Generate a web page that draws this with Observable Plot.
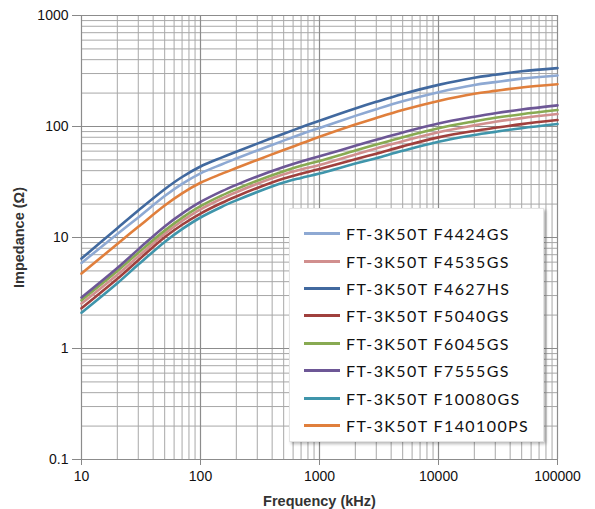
<!DOCTYPE html>
<html><head><meta charset="utf-8">
<script src="https://cdn.jsdelivr.net/npm/d3@7"></script>
<script src="https://cdn.jsdelivr.net/npm/@observablehq/plot@0.6"></script>
<style>
body{margin:0;background:#fff}
#wrap{position:relative;width:595px;height:509px;overflow:hidden}
#legend{position:absolute;left:289px;top:208px;width:255px;height:234px;background:#fff;box-shadow:2px 2px 3px rgba(0,0,0,0.28);border:1px solid #e4e4e4;box-sizing:border-box;padding-top:11px}
.row{display:flex;align-items:center;height:27.4px;font-family:Lato,"Open Sans",sans-serif;font-size:16px;letter-spacing:1.4px;color:#111}
.sw{width:36px;height:3px;margin-left:14px;margin-right:6px}
g[aria-label="x-axis label"] text,g[aria-label="y-axis label"] text{font-weight:bold;fill:#333;font-size:14.5px}
</style></head><body>
<div id="wrap"><div id="chart"></div><div id="legend"></div></div>
<script>
const freqs = [10, 20, 30, 50, 70, 100, 150, 200, 300, 500, 700, 1000, 2000, 3000, 5000, 10000, 20000, 30000, 50000, 100000];
const names = ["FT-3K50T F4424GS","FT-3K50T F4535GS","FT-3K50T F4627HS","FT-3K50T F5040GS","FT-3K50T F6045GS","FT-3K50T F7555GS","FT-3K50T F10080GS","FT-3K50T F140100PS"];
const colors = ["#8ea9d3","#d18f8e","#41699f","#a0403d","#88aa52","#6d5796","#3f95ab","#e07f3c"];
const F4424GS   = [5.89, 10.76, 15.17, 23.61, 30.41, 37.84, 45.50, 51.40, 60.81, 74.64, 85.11, 96.83, 124.7, 143.2, 168.7, 203.7, 236.6, 251.2, 269.8, 288.4];
const F4535GS   = [2.54, 4.62, 6.76, 10.81, 14.09, 17.95, 22.34, 25.59, 30.48, 37.07, 41.02, 45.08, 55.98, 63.39, 73.79, 88.9, 102.3, 110.2, 118.9, 129.4];
const F4627HS   = [6.46, 12.13, 17.50, 27.23, 35.08, 43.65, 52.48, 59.29, 70.15, 86.10, 98.40, 112.7, 145.2, 166.7, 196.3, 237.1, 275.4, 292.4, 314.1, 335.7];
const F5040GS   = [2.30, 4.24, 6.24, 10.05, 13.03, 16.44, 20.46, 23.44, 27.93, 33.96, 37.58, 41.40, 50.82, 56.89, 66.22, 79.8, 91.2, 97.3, 105.0, 114.3];
const F6045GS   = [2.72, 4.98, 7.28, 11.53, 15.03, 19.14, 23.82, 27.29, 32.51, 39.54, 44.26, 48.98, 60.81, 68.87, 80.17, 96.6, 111.2, 119.7, 129.1, 140.6];
const F7555GS   = [2.88, 5.31, 7.82, 12.59, 16.41, 20.89, 26.00, 29.79, 35.48, 43.15, 48.42, 53.95, 66.99, 75.86, 88.31, 106.4, 122.5, 131.8, 142.2, 154.9];
const F10080GS  = [2.10, 3.87, 5.70, 9.12, 11.89, 15.14, 18.84, 21.58, 25.70, 31.26, 34.43, 37.76, 46.34, 51.88, 60.39, 72.8, 83.8, 89.5, 96.6, 105.2];
const F140100PS = [4.73, 8.75, 12.47, 19.41, 25.00, 31.12, 37.41, 42.27, 50.00, 61.38, 70.15, 80.72, 104.0, 119.4, 140.6, 169.8, 197.2, 209.4, 224.9, 240.4];
const seriesVals = [F4424GS, F4535GS, F4627HS, F5040GS, F6045GS, F7555GS, F10080GS, F140100PS];
const yTicks = [0.1, 1, 10, 100, 1000];
const xTicks = [10, 100, 1000, 10000, 100000];

const rows = [];
names.forEach((n, i) => freqs.forEach((f, j) => rows.push({name: n, f, z: seriesVals[i][j]})));

const xMinor = d3.scaleLog().domain([10, 100000]).ticks();
const yMinor = d3.scaleLog().domain([0.1, 1000]).ticks();

const plot = Plot.plot({
  width: 595, height: 509,
  marginLeft: 81, marginRight: 38, marginTop: 15, marginBottom: 50,
  style: {fontFamily: "'Liberation Sans', Arial, sans-serif", fontSize: "14px", color: "#111", background: "#fff"},
  x: {type: "log", domain: [10, 100000]},
  y: {type: "log", domain: [0.1, 1000]},
  color: {domain: names, range: colors},
  marks: [
    Plot.ruleX(xMinor, {stroke: "#a8a8a8", strokeWidth: 1, strokeOpacity: 1}),
    Plot.ruleY(yMinor, {stroke: "#a8a8a8", strokeWidth: 1, strokeOpacity: 1}),
    Plot.ruleX(xTicks, {stroke: "#8c8c8c", strokeWidth: 1.2}),
    Plot.ruleY(yTicks, {stroke: "#8c8c8c", strokeWidth: 1.2}),
    Plot.axisY({ticks: yTicks, tickFormat: d => String(d), tickSize: 9, tickPadding: 4, stroke: "#888",
      label: "Impedance (Ω)", labelAnchor: "center", labelArrow: "none", labelOffset: 68}),
    Plot.axisX({ticks: xTicks, tickFormat: d => String(d), tickSize: 6, tickPadding: 6, stroke: "#888",
      label: "Frequency (kHz)", labelAnchor: "center", labelArrow: "none", labelOffset: 46}),
    Plot.line(rows, {x: "f", y: "z", z: "name", stroke: "name", strokeWidth: 2.6, curve: "catmull-rom"})
  ]
});
document.getElementById("chart").appendChild(plot);

const leg = document.getElementById("legend");
names.forEach((n, i) => {
  const r = document.createElement("div"); r.className = "row";
  const s = document.createElement("div"); s.className = "sw"; s.style.background = colors[i];
  const t = document.createElement("span"); t.textContent = n;
  r.appendChild(s); r.appendChild(t); leg.appendChild(r);
});
</script>
</body></html>
